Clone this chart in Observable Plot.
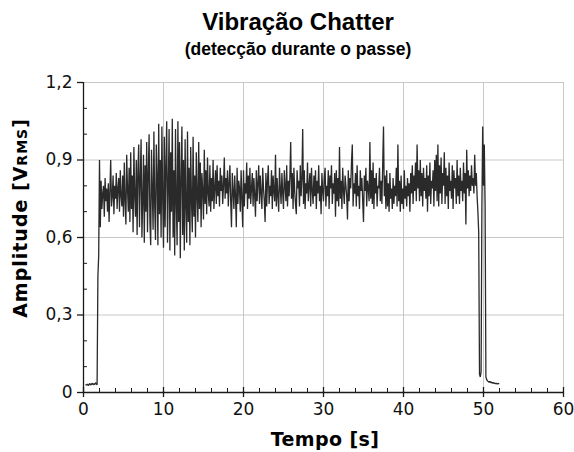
<!DOCTYPE html>
<html>
<head>
<meta charset="utf-8">
<script src="https://cdn.jsdelivr.net/npm/d3@7"></script>
<script src="https://cdn.jsdelivr.net/npm/@observablehq/plot@0.6"></script>
<style>
  html, body { margin: 0; padding: 0; background: #fff; }
  #wrap { position: relative; width: 574px; height: 452px; overflow: hidden; }
  #wrap svg { position: absolute; left: 0; top: 0; }
  .t { position: absolute; white-space: nowrap; color: #000; }
  #title { left: 0; width: 596px; top: 10px; text-align: center; font: bold 24px/24px "Liberation Sans", Arial, sans-serif; }
  #subtitle { left: 0; width: 596px; top: 41px; text-align: center; font: bold 17.5px/17px "Liberation Sans", Arial, sans-serif; }
  #xlabel { left: 0; width: 650px; top: 430px; text-align: center; font: bold 19px/19px "DejaVu Sans", sans-serif; letter-spacing: 0.4px; }
  #ylabel { left: 21px; top: 218px; transform: translate(-50%, -50%) rotate(-90deg); font: bold 19px/19px "DejaVu Sans", sans-serif; letter-spacing: 1px; }
  #ylabel span { font-size: 14px; }
</style>
</head>
<body>
<div id="wrap">
  <div class="t" id="title">Vibração Chatter</div>
  <div class="t" id="subtitle">(detecção durante o passe)</div>
  <div class="t" id="xlabel">Tempo [s]</div>
  <div class="t" id="ylabel">Amplitude [V<span>RMS</span>]</div>
</div>
<script>
// sampling: first sample at 0.3 s, one sample every 0.1 s
const sampleStart = 0.3;
const sampleStep = 0.1;

// idle before the cut (0.3 – 1.7 s)
const ampIdleStart = [0.030,0.028,0.033,0.027,0.031,0.035,0.029,0.032,0.036,0.030,0.034,0.031,0.038,0.033,0.030];
// tool entry (1.8 – 1.9 s)
const ampEntry = [0.45,0.53];
// chatter phase (2.0 – 19.9 s)
const ampChatter = [
  0.90,0.64,0.82,0.71,0.77,0.80,0.68,0.83,0.74,0.79,
  0.70,0.81,0.66,0.78,0.90,0.72,0.76,0.84,0.69,0.80,
  0.75,0.85,0.71,0.79,0.83,0.70,0.86,0.76,0.72,0.84,
  0.68,0.89,0.74,0.65,0.92,0.79,0.70,0.87,0.66,0.93,
  0.71,0.84,0.62,0.95,0.76,0.68,0.90,0.61,0.86,0.96,
  0.64,0.83,0.98,0.60,0.74,0.92,0.58,0.88,0.70,0.97,
  0.62,0.85,1.00,0.66,0.57,0.94,0.78,0.63,1.01,0.72,
  0.59,0.96,0.84,0.57,1.04,0.69,0.90,0.60,1.03,0.75,
  0.56,0.99,0.64,0.88,1.05,0.58,0.80,1.02,0.55,0.93,
  0.70,1.06,0.60,0.86,0.53,1.02,0.74,0.57,1.05,0.66,
  0.97,0.52,0.83,1.03,0.61,0.90,0.55,0.98,0.72,0.58,
  1.01,0.66,0.87,0.57,0.95,0.74,0.62,0.99,0.68,0.84,
  0.60,0.93,0.76,0.66,0.97,0.71,0.89,0.64,0.85,0.78,
  0.67,0.94,0.73,0.86,0.69,0.91,0.77,0.72,0.88,0.70,
  0.83,0.74,0.90,0.71,0.79,0.86,0.73,0.88,0.76,0.82,
  0.72,0.87,0.78,0.84,0.73,0.80,0.91,0.75,0.83,0.77,
  0.86,0.72,0.81,0.88,0.74,0.64,0.85,0.78,0.71,0.84,
  0.76,0.64,0.87,0.73,0.82,0.79,0.70,0.86,0.75,0.64
];
// stable cut (20.0 – 48.9 s)
const ampStable = [
  0.86,0.72,0.81,0.77,0.89,0.71,0.84,0.75,0.87,0.73,
  0.79,0.85,0.72,0.83,0.76,0.68,0.86,0.74,0.81,0.88,
  0.73,0.84,0.77,0.71,0.87,0.79,0.74,0.66,0.85,0.72,
  0.82,0.88,0.73,0.80,0.76,0.86,0.71,0.84,0.78,0.74,
  0.92,0.72,0.83,0.76,0.70,0.87,0.79,0.73,0.85,0.77,
  0.71,0.86,0.80,0.74,0.88,0.72,0.82,0.76,0.84,0.97,
  0.75,0.85,0.71,0.87,0.78,0.73,0.69,0.86,0.79,0.82,
  0.72,0.88,0.76,0.83,1.02,0.73,0.86,0.71,0.81,0.77,
  0.89,0.74,0.80,0.85,0.72,0.87,0.78,0.73,0.84,0.76,
  0.86,0.71,0.82,0.77,0.88,0.74,0.80,0.69,0.85,0.78,
  0.74,0.83,0.87,0.72,0.80,0.76,0.86,0.71,0.84,0.79,
  0.88,0.73,0.81,0.77,0.85,0.68,0.86,0.74,0.83,0.72,
  0.95,0.75,0.82,0.71,0.87,0.78,0.73,0.84,0.80,0.76,
  0.67,0.86,0.74,0.83,0.79,0.89,0.96,0.72,0.81,0.77,
  0.85,0.72,0.88,0.76,0.80,0.71,0.86,0.78,0.83,0.74,
  0.66,0.84,0.78,0.87,0.72,0.82,0.79,0.74,0.97,0.75,
  0.86,0.73,0.89,0.71,0.83,0.77,0.85,0.72,0.80,0.79,
  0.87,0.74,0.82,0.73,0.88,1.03,0.76,0.84,0.71,0.86,
  0.72,0.81,0.70,0.85,0.75,0.79,0.71,0.83,0.73,0.80,
  0.76,0.87,0.72,0.96,0.74,0.82,0.70,0.84,0.73,0.79,
  0.71,0.86,0.75,0.80,0.72,0.83,0.76,0.81,0.70,0.85,
  0.77,0.88,0.73,0.84,0.78,0.89,0.74,0.96,0.79,0.86,
  0.74,0.90,0.76,0.85,0.72,0.87,0.78,0.83,0.75,0.88,
  0.70,0.84,0.76,0.89,0.73,0.82,0.79,0.86,0.72,0.90,
  0.78,0.92,0.74,0.96,0.72,0.88,0.77,0.91,0.73,0.85,
  0.80,0.93,0.73,0.87,0.76,0.84,0.71,0.89,0.78,0.82,
  0.75,0.88,0.71,0.86,0.79,0.83,0.73,0.90,0.76,0.84,
  0.73,0.87,0.78,0.82,0.74,0.89,0.77,0.85,0.65,0.94,
  0.79,0.86,0.76,0.84,0.78,0.88,0.80,0.83,0.77,0.92
];
// tool exit (49.0 – 50.4 s)
const ampExit = [0.80,0.85,0.76,0.70,0.62,0.07,0.06,0.08,0.72,1.03,0.80,0.96,0.72,0.06,0.05];
// idle after the cut (50.5 – 51.9 s)
const ampIdleEnd = [0.045,0.042,0.040,0.043,0.038,0.040,0.036,0.039,0.035,0.037,0.034,0.036,0.033,0.035,0.034];

// axes
const xMajor = [0, 10, 20, 30, 40, 50, 60];
const xMinor = [2, 4, 6, 8, 12, 14, 16, 18, 22, 24, 26, 28, 32, 34, 36, 38, 42, 44, 46, 48, 52, 54, 56, 58];
const yMajor = [0, 0.3, 0.6, 0.9, 1.2];
const yMajorLabels = ["0", "0,3", "0,6", "0,9", "1,2"];
const yMinor = [0.1, 0.2, 0.4, 0.5, 0.7, 0.8, 1.0, 1.1];

const amplitude = [...ampIdleStart, ...ampEntry, ...ampChatter, ...ampStable, ...ampExit, ...ampIdleEnd];
const signal = amplitude.map((v, i) => ({t: +(sampleStart + i * sampleStep).toFixed(2), v}));

const grid = "#c8c8c8";
const axisColor = "#1a1a1a";
const tickFont = {fontFamily: "DejaVu Sans", fontSize: 17, fill: "#111"};

const chart = Plot.plot({
  width: 574,
  height: 452,
  marginLeft: 83,
  marginRight: 11,
  marginTop: 82,
  marginBottom: 60,
  style: {fontFamily: "DejaVu Sans", fontSize: "17px", background: "transparent"},
  x: {domain: [0, 60]},
  y: {domain: [0, 1.2]},
  marks: [
    Plot.gridX(xMajor, {stroke: grid, strokeOpacity: 1, strokeWidth: 1}),
    Plot.gridY(yMajor, {stroke: grid, strokeOpacity: 1, strokeWidth: 1}),
    Plot.line(signal, {x: "t", y: "v", stroke: "#2a2a2a", strokeWidth: 1.3, strokeLinejoin: "miter"}),
    Plot.ruleX([0], {stroke: axisColor, strokeWidth: 1.3}),
    Plot.ruleY([0], {stroke: axisColor, strokeWidth: 1.3}),
    Plot.axisX(xMajor, {anchor: "bottom", tickSize: 5, tickPadding: 5, stroke: axisColor, strokeWidth: 1.3, tickFormat: d => String(d), label: null, ...tickFont}),
    Plot.axisX(xMajor, {anchor: "bottom", tickSize: -5, stroke: axisColor, strokeWidth: 1.3, tickFormat: () => "", label: null}),
    Plot.axisX(xMinor, {anchor: "bottom", tickSize: -4, stroke: axisColor, strokeWidth: 1, tickFormat: () => "", label: null}),
    Plot.axisY(yMajor, {anchor: "left", tickSize: 6, tickPadding: 5, stroke: axisColor, strokeWidth: 1.3, tickFormat: d => yMajorLabels[yMajor.indexOf(d)], label: null, ...tickFont}),
    Plot.axisY(yMinor, {anchor: "left", tickSize: -4, stroke: axisColor, strokeWidth: 1, tickFormat: () => "", label: null})
  ]
});

document.getElementById("wrap").prepend(chart);
</script>
</body>
</html>
